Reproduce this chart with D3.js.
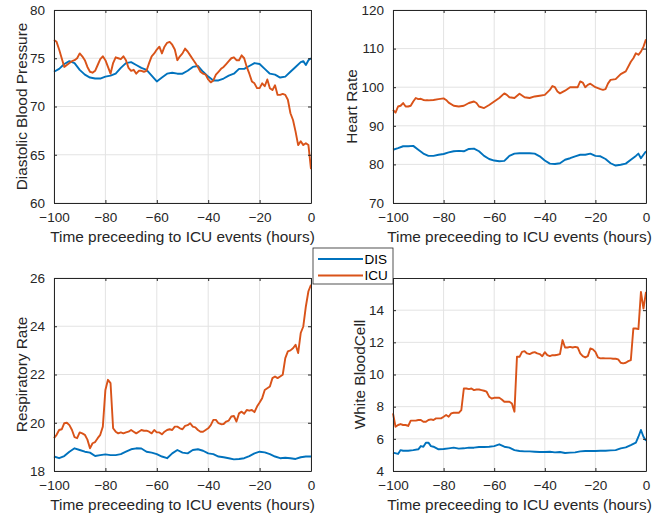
<!DOCTYPE html>
<html>
<head>
<meta charset="utf-8">
<script src="https://cdn.jsdelivr.net/npm/d3@7"></script>
<style>
  body { margin: 0; background: #fff; }
  svg { display: block; font-family: "Liberation Sans", Arial, sans-serif; }
</style>
</head>
<body>
<script>
// x axis ticks, shared by all 4 panels
const hourTicks = [-100, -80, -60, -40, -20, 0]

// legend names
const seriesNames = ['DIS', 'ICU']

// panel titles (y labels) and y ticks
const yLabels = ['Diastolic Blood Pressure', 'Heart Rate', 'Respiratory Rate', 'White BloodCell']
const dbpTicks = [60, 65, 70, 75, 80]
const hrTicks = [70, 80, 90, 100, 110, 120]
const rrTicks = [18, 20, 22, 24, 26]
const wbcTicks = [4, 6, 8, 10, 12, 14]

// ---- data, [hour, value] ----
const dbpDis = [[-100,73.6],[-98,73.9],[-96,74.4],[-94,74.7],[-92,74.5],[-90,73.8],[-88,73.3],[-86,73.0],[-84,72.9],[-82,72.9],
  [-80,73.1],[-78,73.2],[-76,73.4],[-74,74.0],[-72,74.5],[-70,74.6],[-68,74.3],[-66,74.0],[-64,73.8],[-62,73.2],
  [-60,72.6],[-58,73.0],[-56,73.4],[-54,73.5],[-52,73.4],[-50,73.4],[-48,73.7],[-46,74.1],[-44,74.2],[-42,73.6],
  [-40,73.1],[-38,72.7],[-36,72.7],[-34,72.9],[-32,73.2],[-30,73.4],[-28,73.9],[-26,73.9],[-24,74.2],[-22,74.5],
  [-20,74.4],[-18,73.9],[-16,73.4],[-14,73.3],[-12,73.0],[-10,73.1],[-8,73.6],[-6,74.1],[-4,74.6],[-3,74.7],
  [-2,74.3],[-1,74.8],[0,75.0]]

const dbpIcu = [[-100,76.9],[-99,76.7],[-98,75.9],[-97,75.0],[-96,74.1],[-95,74.3],[-94,74.5],[-93,74.7],[-92,74.8],[-91,75.0],
  [-90,75.5],[-89,75.2],[-88,74.8],[-87,74.1],[-86,73.6],[-85,73.5],[-84,73.7],[-83,74.3],[-82,74.9],[-81,75.2],
  [-80,74.8],[-79,74.1],[-78,73.4],[-77,74.5],[-76,75.1],[-75,75.0],[-74,74.9],[-73,75.2],[-72,74.8],[-71,74.0],
  [-70,73.7],[-69,73.8],[-68,73.4],[-67,73.7],[-66,73.7],[-65,73.6],[-64,73.7],[-63,74.5],[-62,75.2],[-61,75.5],
  [-60,75.9],[-59,76.2],[-58,75.5],[-57,76.2],[-56,76.6],[-55,76.7],[-54,76.4],[-53,75.9],[-52,74.8],[-51,75.2],
  [-50,75.5],[-49,76.0],[-48,75.7],[-47,75.3],[-46,74.9],[-45,74.5],[-44,74.1],[-43,73.6],[-42,73.4],[-41,73.3],
  [-40,72.8],[-39,72.5],[-38,72.7],[-37,73.3],[-36,73.6],[-35,73.9],[-34,74.1],[-33,74.4],[-32,74.7],[-31,75.0],
  [-30,75.1],[-29,74.8],[-28,74.8],[-27,75.3],[-26,75.0],[-25,74.1],[-24,73.4],[-23,72.6],[-22,72.4],[-21,71.9],
  [-20,71.9],[-19,72.4],[-18,72.1],[-17,72.8],[-16,71.9],[-15,71.7],[-14,72.2],[-13,71.2],[-12,71.2],[-11,71.3],
  [-10,71.2],[-9,70.7],[-8,69.3],[-7,68.6],[-6,67.4],[-5,66.0],[-4,66.4],[-3,66.0],[-2,66.2],[-1,66.0],[0,63.5]]

const hrDis = [[-100,83.8],[-98,84.2],[-96,84.7],[-94,84.7],[-92,84.8],[-90,83.8],[-88,82.8],[-86,82.2],[-84,82.2],[-82,82.5],
  [-80,82.7],[-78,83.1],[-76,83.4],[-74,83.5],[-72,83.4],[-70,84.0],[-68,84.1],[-66,83.4],[-64,82.2],[-62,81.4],
  [-60,81.0],[-58,80.8],[-56,80.9],[-54,82.2],[-52,82.8],[-50,82.9],[-48,82.9],[-46,82.9],[-44,82.8],[-42,82.1],
  [-40,81.0],[-38,80.2],[-36,80.1],[-34,80.3],[-32,81.2],[-30,81.6],[-28,82.1],[-26,82.5],[-24,82.5],[-22,82.8],
  [-20,82.2],[-18,82.1],[-16,81.4],[-14,80.3],[-12,79.7],[-10,79.9],[-8,80.2],[-6,81.2],[-4,82.2],[-3,82.8],
  [-2,81.6],[-1,82.5],[0,83.4]]

const hrIcu = [[-100,94.1],[-99,93.4],[-98,95.0],[-97,95.2],[-96,95.9],[-95,95.0],[-94,95.0],[-93,95.2],[-92,96.3],[-91,97.2],
  [-90,96.9],[-89,97.0],[-88,96.7],[-87,96.6],[-86,96.6],[-84,96.7],[-82,96.9],[-80,97.1],[-79,96.7],[-78,96.0],
  [-76,95.2],[-74,95.0],[-72,95.2],[-70,95.9],[-68,96.3],[-67,95.9],[-66,95.0],[-64,94.6],[-63,95.0],[-62,95.4],
  [-60,96.3],[-58,97.2],[-56,98.4],[-55,98.0],[-54,97.4],[-52,97.2],[-50,98.3],[-48,97.4],[-46,97.2],[-44,97.6],
  [-42,97.8],[-40,98.0],[-38,99.3],[-37,100.3],[-36,100.0],[-35,98.9],[-34,98.4],[-32,99.1],[-30,100.0],[-28,100.0],
  [-27,100.0],[-26,101.5],[-25,101.2],[-24,100.0],[-23,100.6],[-22,100.9],[-20,100.0],[-18,99.5],[-17,99.3],[-16,99.5],
  [-15,101.0],[-14,101.9],[-12,102.1],[-10,103.4],[-8,104.1],[-6,106.6],[-5,107.5],[-4,108.8],[-3,108.4],[-2,109.2],
  [-1,110.5],[0,112.4]]

const rrDis = [[-100,18.6],[-98,18.53],[-96,18.62],[-94,18.8],[-92,18.94],[-90,18.87],[-88,18.8],[-86,18.76],[-84,18.62],[-82,18.66],
  [-80,18.69],[-78,18.66],[-76,18.66],[-74,18.7],[-72,18.8],[-70,18.9],[-68,18.94],[-66,18.93],[-64,18.8],[-62,18.76],
  [-60,18.7],[-58,18.6],[-56,18.53],[-54,18.73],[-52,18.87],[-50,18.76],[-48,18.73],[-46,18.87],[-44,18.9],[-42,18.84],
  [-40,18.73],[-38,18.7],[-36,18.6],[-34,18.57],[-32,18.53],[-30,18.48],[-28,18.5],[-26,18.53],[-24,18.62],[-22,18.73],
  [-20,18.8],[-18,18.77],[-16,18.7],[-14,18.6],[-12,18.53],[-10,18.55],[-8,18.53],[-6,18.5],[-4,18.57],[-2,18.6],[0,18.6]]

const rrIcu = [[-100,19.36],[-99,19.5],[-98,19.7],[-97,19.73],[-96,19.98],[-95,20.0],[-94,19.9],[-93,19.7],[-92,19.4],[-91,19.36],
  [-90,19.6],[-89,19.56],[-88,19.5],[-87,19.3],[-86,18.94],[-85,19.15],[-84,19.2],[-83,19.36],[-82,19.5],[-81,19.84],
  [-80,21.36],[-79,21.78],[-78,21.64],[-77,19.77],[-76,19.63],[-75,19.56],[-74,19.6],[-73,19.56],[-72,19.6],[-71,19.63],
  [-70,19.7],[-69,19.63],[-68,19.56],[-67,19.63],[-66,19.7],[-65,19.67],[-64,19.67],[-63,19.63],[-62,19.56],[-61,19.7],
  [-60,19.6],[-59,19.6],[-58,19.52],[-57,19.63],[-56,19.7],[-55,19.73],[-54,19.7],[-53,19.84],[-52,19.84],[-51,19.77],
  [-50,19.73],[-49,19.87],[-48,19.9],[-47,19.98],[-46,19.84],[-45,19.81],[-44,19.7],[-43,19.63],[-42,19.63],[-41,19.7],
  [-40,19.77],[-39,19.9],[-38,20.12],[-37,20.12],[-36,19.98],[-35,19.94],[-34,19.95],[-33,20.05],[-32,20.09],[-31,20.26],
  [-30,20.28],[-29,20.05],[-28,20.39],[-27,20.46],[-26,20.37],[-25,20.53],[-24,20.5],[-23,20.53],[-22,20.44],[-21,20.67],
  [-20,20.84],[-19,21.02],[-18,21.36],[-17,21.43],[-16,21.5],[-15,21.85],[-14,21.92],[-13,21.85],[-12,21.92],[-11,21.99],
  [-10,22.68],[-9,22.96],[-8,23.0],[-7,23.09],[-6,23.23],[-5,22.89],[-4,23.72],[-3,23.99],[-2,24.82],[-1,25.45],[0,25.72]]

const wbcDis = [[-100,5.14],[-98,5.06],[-97,5.3],[-96,5.26],[-94,5.26],[-92,5.3],[-90,5.35],[-89,5.55],[-88,5.51],[-87,5.76],
  [-86,5.76],[-85,5.55],[-84,5.51],[-82,5.35],[-80,5.37],[-78,5.41],[-76,5.45],[-74,5.39],[-72,5.41],[-70,5.45],
  [-68,5.45],[-66,5.49],[-64,5.49],[-62,5.51],[-60,5.55],[-58,5.66],[-56,5.51],[-54,5.45],[-52,5.3],[-50,5.24],
  [-48,5.22],[-46,5.22],[-44,5.2],[-42,5.18],[-40,5.18],[-38,5.2],[-36,5.16],[-34,5.18],[-32,5.12],[-30,5.14],
  [-28,5.16],[-26,5.22],[-24,5.24],[-22,5.24],[-20,5.24],[-18,5.26],[-16,5.26],[-14,5.28],[-12,5.3],[-10,5.41],
  [-8,5.47],[-6,5.61],[-4,5.76],[-3,6.13],[-2,6.55],[-1,6.13],[0,5.88]]

const wbcIcu = [[-100,7.58],[-99,6.75],[-98,6.86],[-97,6.92],[-96,6.86],[-95,6.86],[-94,6.8],[-93,7.13],[-92,7.13],[-91,7.13],
  [-90,7.17],[-89,7.17],[-88,7.06],[-87,7.06],[-86,7.17],[-85,7.21],[-84,7.17],[-83,7.27],[-82,7.27],[-81,7.27],
  [-80,7.37],[-79,7.48],[-78,7.37],[-77,7.58],[-76,7.62],[-75,7.62],[-74,7.62],[-73,7.79],[-72,9.13],[-71,9.13],
  [-70,9.09],[-69,9.13],[-68,9.03],[-67,9.07],[-66,9.07],[-65,9.03],[-64,8.99],[-63,8.93],[-62,8.62],[-61,8.51],
  [-60,8.55],[-59,8.55],[-58,8.55],[-57,8.45],[-56,8.31],[-55,8.31],[-54,8.31],[-53,8.2],[-52,7.69],[-51,11.1],
  [-50,11.1],[-49,11.41],[-48,11.45],[-47,11.31],[-46,11.27],[-45,11.35],[-44,11.39],[-43,11.31],[-42,11.27],[-41,11.14],
  [-40,11.39],[-39,11.2],[-38,11.14],[-37,11.2],[-36,11.2],[-35,11.23],[-34,11.27],[-33,12.14],[-32,11.68],[-31,11.68],
  [-30,11.72],[-29,11.68],[-28,11.72],[-27,11.68],[-26,11.31],[-25,11.14],[-24,11.06],[-23,11.14],[-22,11.62],[-21,11.56],
  [-20,11.41],[-19,11.06],[-18,11.0],[-17,11.02],[-16,11.0],[-15,11.0],[-14,11.0],[-13,10.98],[-12,10.98],[-11,10.94],
  [-10,10.73],[-9,10.69],[-8,10.73],[-7,10.83],[-6,10.89],[-5,12.86],[-4,12.86],[-3,12.82],[-2,15.14],[-1,14.1],[0,15.14]]

// size of the svg
const width = 656
const height = 518

// matlab default colors
const colors = ['#0072BD', '#D95319']
const axisColor = '#262626'
const gridColor = '#e3e3e3'

// where each axes box sits (left, right, top, bottom), and y label offset
const panels = [
  { box: [54, 311, 10, 203], yDomain: [60, 80], yTicks: dbpTicks, label: yLabels[0], labelOff: 27.5, series: [dbpDis, dbpIcu] },
  { box: [393, 646, 10, 203], yDomain: [70, 120], yTicks: hrTicks, label: yLabels[1], labelOff: 36, series: [hrDis, hrIcu] },
  { box: [54, 311, 278, 471], yDomain: [18, 26], yTicks: rrTicks, label: yLabels[2], labelOff: 27.5, series: [rrDis, rrIcu] },
  { box: [393, 646, 278, 471], yDomain: [4, 16], yTicks: wbcTicks, label: yLabels[3], labelOff: 28, series: [wbcDis, wbcIcu] }
]

const svg = d3.select('body').append('svg')
  .attr('width', width)
  .attr('height', height)

const drawPanel = (p) => {
  const [x0, x1, y0, y1] = p.box
  const xScale = d3.scaleLinear().domain([-100, 0]).range([x0, x1])
  const yScale = d3.scaleLinear().domain(p.yDomain).range([y1, y0])

  const g = svg.append('g')

  // white plot area
  g.append('rect').attr('x', x0).attr('y', y0).attr('width', x1 - x0).attr('height', y1 - y0).attr('fill', '#fff')

  // grid lines
  g.selectAll('.gx').data(hourTicks).enter().append('line')
    .attr('x1', d => xScale(d)).attr('x2', d => xScale(d))
    .attr('y1', y0).attr('y2', y1)
    .attr('stroke', gridColor).attr('stroke-width', 1)
  g.selectAll('.gy').data(p.yTicks).enter().append('line')
    .attr('x1', x0).attr('x2', x1)
    .attr('y1', d => yScale(d)).attr('y2', d => yScale(d))
    .attr('stroke', gridColor).attr('stroke-width', 1)

  // the lines
  const line = d3.line().x(d => xScale(d[0])).y(d => yScale(d[1]))
  p.series.forEach((s, i) => {
    g.append('path').datum(s)
      .attr('d', line)
      .attr('fill', 'none')
      .attr('stroke', colors[i])
      .attr('stroke-width', 1.9)
      .attr('stroke-linejoin', 'round')
  })

  // axes, ticks inward on all four sides (box on)
  const tl = 3
  g.append('g').attr('transform', 'translate(0,' + y1 + ')')
    .call(d3.axisBottom(xScale).tickValues(hourTicks).tickSizeInner(-tl).tickSizeOuter(0).tickPadding(9))
  g.append('g').attr('transform', 'translate(0,' + y0 + ')')
    .call(d3.axisTop(xScale).tickValues(hourTicks).tickSizeInner(-tl).tickSizeOuter(0).tickFormat(''))
  g.append('g').attr('transform', 'translate(' + x0 + ',0)')
    .call(d3.axisLeft(yScale).tickValues(p.yTicks).tickSizeInner(-tl).tickSizeOuter(0).tickPadding(9))
  g.append('g').attr('transform', 'translate(' + x1 + ',0)')
    .call(d3.axisRight(yScale).tickValues(p.yTicks).tickSizeInner(-tl).tickSizeOuter(0).tickFormat(''))

  g.selectAll('.domain').attr('stroke', axisColor).attr('stroke-width', 1)
  g.selectAll('.tick line').attr('stroke', axisColor)
  g.selectAll('.tick text')
    .attr('fill', axisColor)
    .style('font-size', '13.5px')
    .style('font-family', '"Liberation Sans", Arial, sans-serif')

  // axis labels
  g.append('text')
    .attr('x', (x0 + x1) / 2).attr('y', y1 + 39)
    .attr('text-anchor', 'middle')
    .attr('fill', axisColor)
    .style('font-size', '15.4px')
    .text('Time preceeding to ICU events (hours)')

  g.append('text')
    .attr('transform', 'translate(' + (x0 - p.labelOff) + ',' + ((y0 + y1) / 2) + ') rotate(-90)')
    .attr('text-anchor', 'middle')
    .attr('fill', axisColor)
    .style('font-size', '15.4px')
    .text(p.label)
}

panels.forEach(drawPanel)

// legend between the panels
const legend = svg.append('g')
legend.append('rect')
  .attr('x', 313).attr('y', 248).attr('width', 80).attr('height', 36)
  .attr('fill', '#fff').attr('stroke', axisColor).attr('stroke-width', 0.8)
seriesNames.forEach((name, i) => {
  const ly = 259 + i * 16.5
  legend.append('line')
    .attr('x1', 318).attr('x2', 363).attr('y1', ly).attr('y2', ly)
    .attr('stroke', colors[i]).attr('stroke-width', 1.9)
  legend.append('text')
    .attr('x', 364.5).attr('y', ly + 4.7)
    .attr('fill', '#000')
    .style('font-size', '13.5px')
    .text(name)
})
</script>
</body>
</html>
